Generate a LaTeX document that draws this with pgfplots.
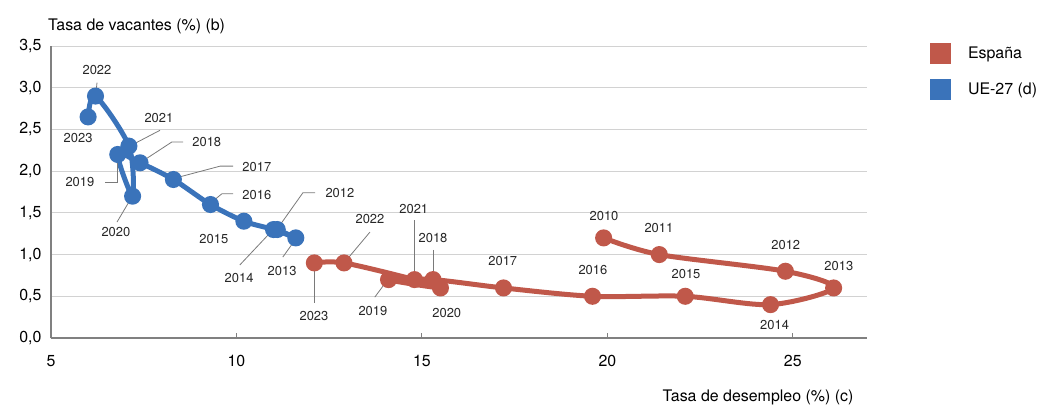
\documentclass[border=0pt]{standalone}
\usepackage{fontspec}
\setmainfont{TeX Gyre Heros}
\usepackage{pgfplots}
\pgfplotsset{compat=1.18}
\definecolor{espana}{HTML}{C0584A}
\definecolor{ue}{HTML}{3A73BA}
\definecolor{rejilla}{HTML}{D2D2D2}
\definecolor{eje}{HTML}{808080}
\definecolor{guia}{HTML}{7A7A7A}
\tikzset{lab/.style={font=\fontsize{13}{15}\selectfont,text=black!85,inner sep=0pt},
  guia/.style={draw=guia,line width=0.8bp}}

\begin{document}
\begin{tikzpicture}
\useasboundingbox (-51bp,-67bp) rectangle (989bp,338bp);
\begin{axis}[scale only axis,width=816bp,height=292bp,
  xmin=5,xmax=27,ymin=0,ymax=3.5,
  xtick={5,10,15,20,25},ytick={0,0.5,1,1.5,2,2.5,3,3.5},
  axis x line*=bottom,axis y line*=left,
  axis line style={draw=eje,line width=1.5bp},
  ymajorgrids,grid style={rejilla,line width=1bp},
  xtick style={draw=eje,line width=1bp},major tick length=5bp,
  ytick style={draw=none},
  tick label style={font=\fontsize{16}{19}\selectfont},
  /pgf/number format/assume math mode=true,
  /pgf/number format/use comma,
  yticklabel style={/pgf/number format/fixed,/pgf/number format/fixed zerofill,/pgf/number format/precision=1,xshift=-6bp},
  xticklabel style={yshift=-14bp},
  clip=false,
  legend style={at={(1.077,1.01)},anchor=north west,draw=none,fill=none,
    font=\fontsize{16}{19}\selectfont,row sep=15bp,inner sep=0pt,
    cells={anchor=west}},
  legend image code/.code={\fill[#1] (0bp,-8bp) rectangle (16bp,8bp); \path (31bp,0bp);}]

\addplot[color=espana,line width=5bp,smooth,tension=0.5,mark=*,mark size=6bp,mark options={solid}] coordinates {
  (19.9,1.2) (21.4,1.0) (24.8,0.8) (26.1,0.6) (24.4,0.4) (22.1,0.5) (19.6,0.5)
  (17.2,0.6) (15.3,0.7) (14.1,0.7) (15.5,0.6) (14.8,0.7) (12.9,0.9) (12.1,0.9)};
\addplot[color=ue,line width=5bp,smooth,tension=0.5,mark=*,mark size=6bp,mark options={solid}] coordinates {
  (11.1,1.3) (11.6,1.2) (11.0,1.3) (10.2,1.4) (9.3,1.6) (8.3,1.9) (7.4,2.1)
  (6.8,2.2) (7.2,1.7) (7.1,2.3) (6.2,2.9) (6.0,2.65)};
\legend{España,UE-27 (d)}

% etiquetas UE-27
\draw[guia] (axis cs:6.24,3.06) -- (axis cs:6.21,2.93);
\node[lab] at (axis cs:6.24,3.21) {2022};
\node[lab] at (axis cs:5.73,2.40) {2023};
\draw[guia] (axis cs:7.94,2.49) -- (axis cs:7.08,2.29);
\node[lab] at (axis cs:7.91,2.64) {2021};
\draw[guia] (axis cs:8.56,2.35) -- (axis cs:8.26,2.35) -- (axis cs:7.40,2.10);
\node[lab] at (axis cs:9.20,2.35) {2018};
\draw[guia] (axis cs:6.46,1.87) -- (axis cs:6.78,1.87) -- (axis cs:6.78,2.19);
\node[lab] at (axis cs:5.78,1.87) {2019};
\draw[guia] (axis cs:9.91,2.06) -- (axis cs:9.56,2.06) -- (axis cs:8.29,1.91);
\node[lab] at (axis cs:10.55,2.05) {2017};
\draw[guia] (axis cs:9.91,1.73) -- (axis cs:9.61,1.73) -- (axis cs:9.31,1.62);
\node[lab] at (axis cs:10.55,1.71) {2016};
\draw[guia] (axis cs:6.78,1.39) -- (axis cs:7.18,1.69);
\node[lab] at (axis cs:6.75,1.27) {2020};
\node[lab] at (axis cs:9.39,1.19) {2015};
\draw[guia] (axis cs:10.09,0.875) -- (axis cs:10.98,1.295);
\node[lab] at (axis cs:10.07,0.72) {2014};
\draw[guia] (axis cs:12.12,1.74) -- (axis cs:11.79,1.74) -- (axis cs:11.12,1.32);
\node[lab] at (axis cs:12.79,1.74) {2012};
\draw[guia] (axis cs:11.25,0.97) -- (axis cs:11.58,1.175);
\node[lab] at (axis cs:11.23,0.80) {2013};

% etiquetas España
\draw[guia] (axis cs:12.09,0.42) -- (axis cs:12.09,0.90);
\node[lab] at (axis cs:12.09,0.26) {2023};
\draw[guia] (axis cs:13.6,1.27) -- (axis cs:12.92,0.91);
\node[lab] at (axis cs:13.6,1.43) {2022};
\draw[guia] (axis cs:13.73,0.49) -- (axis cs:14.08,0.70);
\node[lab] at (axis cs:13.68,0.32) {2019};
\draw[guia] (axis cs:14.81,1.41) -- (axis cs:14.81,0.72);
\node[lab] at (axis cs:14.78,1.55) {2021};
\draw[guia] (axis cs:15.30,1.055) -- (axis cs:15.30,0.72);
\node[lab] at (axis cs:15.30,1.20) {2018};
\node[lab] at (axis cs:15.67,0.30) {2020};
\node[lab] at (axis cs:17.18,0.92) {2017};
\node[lab] at (axis cs:19.61,0.815) {2016};
\node[lab] at (axis cs:19.91,1.46) {2010};
\node[lab] at (axis cs:21.39,1.32) {2011};
\node[lab] at (axis cs:24.81,1.115) {2012};
\node[lab] at (axis cs:26.24,0.86) {2013};
\node[lab] at (axis cs:22.12,0.77) {2015};
\node[lab] at (axis cs:24.51,0.16) {2014};

% titulos de ejes
\node[anchor=base west,inner sep=0pt,font=\fontsize{16}{19}\selectfont] at (axis cs:4.92,3.69) {Tasa de vacantes (\%) (b)};
\node[anchor=base east,inner sep=0pt,font=\fontsize{16}{19}\selectfont] at (axis cs:26.64,-0.767) {Tasa de desempleo (\%) (c)};
\end{axis}
\end{tikzpicture}
\end{document}
